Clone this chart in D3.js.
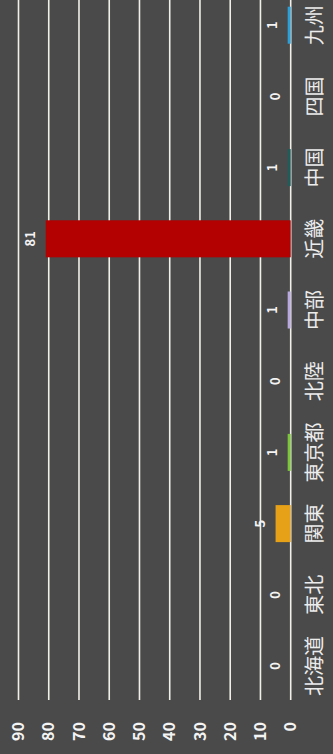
<!DOCTYPE html>
<html>
<head>
<meta charset="utf-8">
<script src="https://cdn.jsdelivr.net/npm/d3@7"></script>
<style>
  html, body { margin: 0; padding: 0; background: #4a4a4a; overflow: hidden; }
  svg { display: block; }
  .grid line { stroke: #f0f0e8; stroke-width: 1.6; }
  .tick-label { fill: #f4f4f4; font: bold 16px "Noto Sans CJK JP", "Noto Sans", sans-serif; }
  .cat-label { fill: #ececec; font: 20px "Noto Sans CJK JP", sans-serif; }
  .val-label { fill: #f4f4f4; font: bold 13px "Noto Sans CJK JP", "Noto Sans", sans-serif; }
</style>
</head>
<body>
<script>
const W = 333, H = 754

// data
const categories = ['北海道', '東北', '関東', '東京都', '北陸', '中部', '近畿', '中国', '四国', '九州']
const values = [0, 0, 5, 1, 0, 1, 81, 1, 0, 1]
const colors = ['#4472c4', '#5b9bd5', '#e6a118', '#7cc63a', '#9e480e', '#b8a8e0', '#b30000', '#1f5c5a', '#636363', '#2a9fd8']
const ticks = [0, 10, 20, 30, 40, 50, 60, 70, 80, 90]

// the chart is drawn as a normal column chart, then turned a quarter to the left
const svg = d3.select('body').append('svg')
  .attr('width', W)
  .attr('height', H)

svg.append('rect')
  .attr('width', W)
  .attr('height', H)
  .attr('fill', '#4a4a4a')

const g = svg.append('g')
  .attr('transform', 'translate(0,' + H + ') rotate(-90)')

const x = d3.scaleBand()
  .domain(categories)
  .range([52.4, 764.4])
  .paddingInner(0.48)
  .paddingOuter(0.24)

const y = d3.scaleLinear()
  .domain([0, 90])
  .range([290.7, 18.5])

// gridlines
g.append('g')
  .attr('class', 'grid')
  .selectAll('line')
  .data(ticks)
  .enter().append('line')
    .attr('x1', 54)
    .attr('x2', H + 10)
    .attr('y1', (d) => y(d))
    .attr('y2', (d) => y(d))

// value axis labels
g.append('g')
  .selectAll('text')
  .data(ticks)
  .enter().append('text')
    .attr('class', 'tick-label')
    .attr('x', 32)
    .attr('y', (d) => y(d))
    .attr('dy', '.35em')
    .attr('text-anchor', 'end')
    .text((d) => d)

// bars
g.append('g')
  .selectAll('rect')
  .data(categories)
  .enter().append('rect')
    .attr('x', (d) => x(d))
    .attr('width', x.bandwidth())
    .attr('y', (d, i) => y(values[i]))
    .attr('height', (d, i) => y(0) - y(values[i]))
    .attr('fill', (d, i) => colors[i])

// value labels
g.append('g')
  .selectAll('text')
  .data(categories)
  .enter().append('text')
    .attr('class', 'val-label')
    .attr('x', (d) => x(d) + x.bandwidth() / 2)
    .attr('y', (d, i) => y(values[i]) - 11)
    .attr('text-anchor', 'middle')
    .text((d, i) => values[i])

// category labels
g.append('g')
  .selectAll('text')
  .data(categories)
  .enter().append('text')
    .attr('class', 'cat-label')
    .attr('x', (d) => x(d) + x.bandwidth() / 2)
    .attr('y', 322)
    .attr('text-anchor', 'middle')
    .text((d) => d)
</script>
</body>
</html>
